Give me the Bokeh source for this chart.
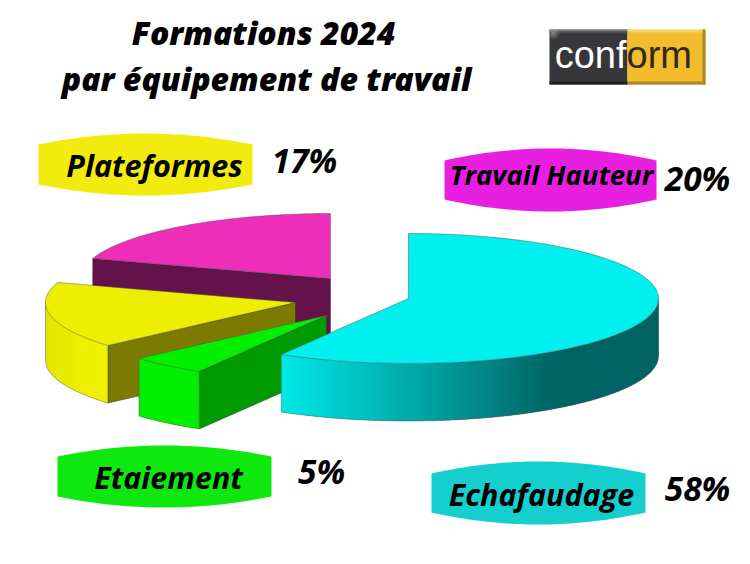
import math
from bokeh.plotting import figure
from bokeh.models import Range1d
from bokeh.core.properties import value
from bokeh.embed import file_html
from bokeh.resources import INLINE

# ---------- data ----------
categories = ["Echafaudage", "Etaiement", "Plateformes", "Travail Hauteur"]
shares = [58.5, 5.0, 16.5, 20.0]          # slice sizes
pct_labels = ["58%", "5%", "17%", "20%"]
title_lines = ["Formations 2024", "par équipement de travail"]

# ---------- layout (page pixels) ----------
RX, RY, DEPTH = 250, 65, 57.5
centers = {"Echafaudage": (408, 298), "Etaiement": (326, 315),
           "Plateformes": (295, 302), "Travail Hauteur": (330, 278)}
top_col = {"Echafaudage": "#00f0f0", "Etaiement": "#00f000",
           "Plateformes": "#eeee00", "Travail Hauteur": "#ee2db8"}
wall_col = {"Etaiement": "#009b00", "Plateformes": "#7d7a00", "Travail Hauteur": "#64124c"}
banners = {"Plateformes": (38, 252, 144, 184, 11, "#f1eb0e"),
           "Travail Hauteur": (444, 656, 160, 199, 12, "#e81fe0"),
           "Etaiement": (57, 271, 456, 496, 11, "#0ee80e"),
           "Echafaudage": (431, 645, 473, 512, 12, "#15cfcf")}
banner_text = {"Plateformes": (154, 164, 30.5), "Travail Hauteur": (551, 174, 27.5),
               "Etaiement": (168, 476, 30.5), "Echafaudage": (541, 493, 30.5)}
pct_pos = {"Plateformes": (304, 159), "Travail Hauteur": (697, 177),
           "Etaiement": (321, 470), "Echafaudage": (697, 487)}
title_pos = [(263, 32), (266, 78)]

p = figure(width=742, height=556, output_backend="svg", toolbar_location=None,
           x_range=Range1d(0, 742), y_range=Range1d(556, 0), min_border=0,
           outline_line_color=None)
p.axis.visible = False
p.grid.visible = False

FONT = value("Open Sans")
HEAVY = value("Open Sans ExtraBold")


def mix(a, b, t):
    t = max(0.0, min(1.0, t))
    ca = [int(a[i:i + 2], 16) for i in (1, 3, 5)]
    cb = [int(b[i:i + 2], 16) for i in (1, 3, 5)]
    return "#%02x%02x%02x" % tuple(round(x + (y - x) * t) for x, y in zip(ca, cb))


def rim(c, theta):
    return c[0] + RX * math.sin(theta), c[1] - RY * math.cos(theta)


def arc(c, t0, t1, n=90):
    return [rim(c, t0 + (t1 - t0) * i / n) for i in range(n + 1)]


angles = {}
acc = 0.0
total = sum(shares)
for name, s in zip(categories, shares):
    angles[name] = (acc / total * 2 * math.pi, (acc + s) / total * 2 * math.pi)
    acc += s


def side_colour(name, x):
    if name == "Echafaudage":
        return mix("#00e8e8", "#006464", (x - 281) / (553 - 281))
    if name == "Plateformes":
        return mix("#e4e400", "#efef00", (x - 45) / 40)
    return "#00ee00"


def draw_slice(name):
    c = centers[name]
    t0, t1 = angles[name]
    if name in wall_col:
        e = rim(c, t0)
        p.patch([e[0], c[0], c[0], e[0]], [e[1], c[1], c[1] + DEPTH, e[1] + DEPTH],
                fill_color=wall_col[name], line_color="#333333", line_width=0.5)
    lo, hi = max(t0, math.pi / 2), min(t1, 1.5 * math.pi)
    if hi > lo:
        pts = arc(c, lo, hi, 120)
        xa, xb = min(q[0] for q in pts), max(q[0] for q in pts)
        step = 2.0
        x = xa
        yat = lambda u: c[1] + RY * math.sqrt(max(0.0, 1 - ((u - c[0]) / RX) ** 2))
        while x < xb:
            x2 = min(x + step + 1.5, xb)
            col = side_colour(name, x + step / 2)
            n = 4
            xs = [x + (x2 - x) * i / n for i in range(n + 1)]
            top = [yat(u) for u in xs]
            p.patch(xs + xs[::-1], top + [t + DEPTH for t in top[::-1]],
                    fill_color=col, line_color=None)
            x += step
        p.line([q[0] for q in pts], [q[1] + DEPTH for q in pts], line_color="#555555", line_width=0.5)
        for q in (pts[0], pts[-1]):
            p.line([q[0], q[0]], [q[1], q[1] + DEPTH], line_color="#555555", line_width=0.5)
    pts = [c] + arc(c, t0, t1)
    p.patch([q[0] for q in pts], [q[1] for q in pts], fill_color=top_col[name],
            line_color="#555555", line_width=0.5)


for name in ["Travail Hauteur", "Plateformes", "Etaiement", "Echafaudage"]:
    draw_slice(name)

for name, (x0, x1, y0, y1, bulge, col) in banners.items():
    n = 40
    xs, ys = [], []
    for i in range(n + 1):
        u = i / n
        xs.append(x0 + (x1 - x0) * u)
        ys.append(y0 - bulge * 4 * u * (1 - u))
    for i in range(n + 1):
        u = i / n
        xs.append(x1 - (x1 - x0) * u)
        ys.append(y1 + bulge * 4 * u * (1 - u))
    p.patch(xs, ys, fill_color=col, line_color=None)
    tx, ty, size = banner_text[name]
    p.text([tx], [ty], text=[name], text_font=FONT, text_font_style="bold italic",
           text_font_size=f"{size}px", text_align="center", text_baseline="middle", text_color="#000000")

for name, lab in zip(categories, pct_labels):
    tx, ty = pct_pos[name]
    p.text([tx], [ty], text=[lab], text_font=FONT, text_font_style="bold italic",
           text_font_size="33.5px", text_align="center", text_baseline="middle", text_color="#000000")

for line, (tx, ty) in zip(title_lines, title_pos):
    p.text([tx], [ty], text=[line], text_font=HEAVY, text_font_style="bold italic",
           text_font_size="32px", text_align="center", text_baseline="middle", text_color="#000000")

# logo
p.quad(left=549, right=627, top=29, bottom=84, fill_color="#37373a", line_color=None)
p.quad(left=627, right=705, top=29, bottom=84, fill_color="#f2bc2c", line_color=None)
for g, y in zip(["#9a9a9a", "#7e7e7e", "#626264", "#4a4a4c"], (29, 30, 31, 32)):
    p.quad(left=549, right=627, top=y, bottom=y + 1, fill_color=g, line_color=None)
for g, y in zip(["#fae3a0", "#f8d880", "#f6cf60", "#f4c540"], (29, 30, 31, 32)):
    p.quad(left=627, right=705, top=y, bottom=y + 1, fill_color=g, line_color=None)
p.quad(left=702, right=705, top=29, bottom=84, fill_color="#a98a2a", line_color=None)
p.quad(left=627, right=705, top=81, bottom=84, fill_color="#a98a2a", line_color=None)
p.quad(left=549, right=627, top=81, bottom=84, fill_color="#222222", line_color=None)
for r, a in zip((6, 4, 2), (0.12, 0.15, 0.2)):
    p.scatter([553], [33], size=r * 2, marker="circle", fill_color="#d0d0d0", fill_alpha=a, line_color=None)
p.text([626], [54], text=["conf"], text_font=value("Liberation Sans"), text_font_size="38px",
       text_align="right", text_baseline="middle", text_color="#ffffff")
p.text([626], [54], text=["orm"], text_font=value("Liberation Sans"), text_font_size="38px",
       text_align="left", text_baseline="middle", text_color="#2e2a1c")

open("out.html", "w").write(file_html(p, INLINE))
